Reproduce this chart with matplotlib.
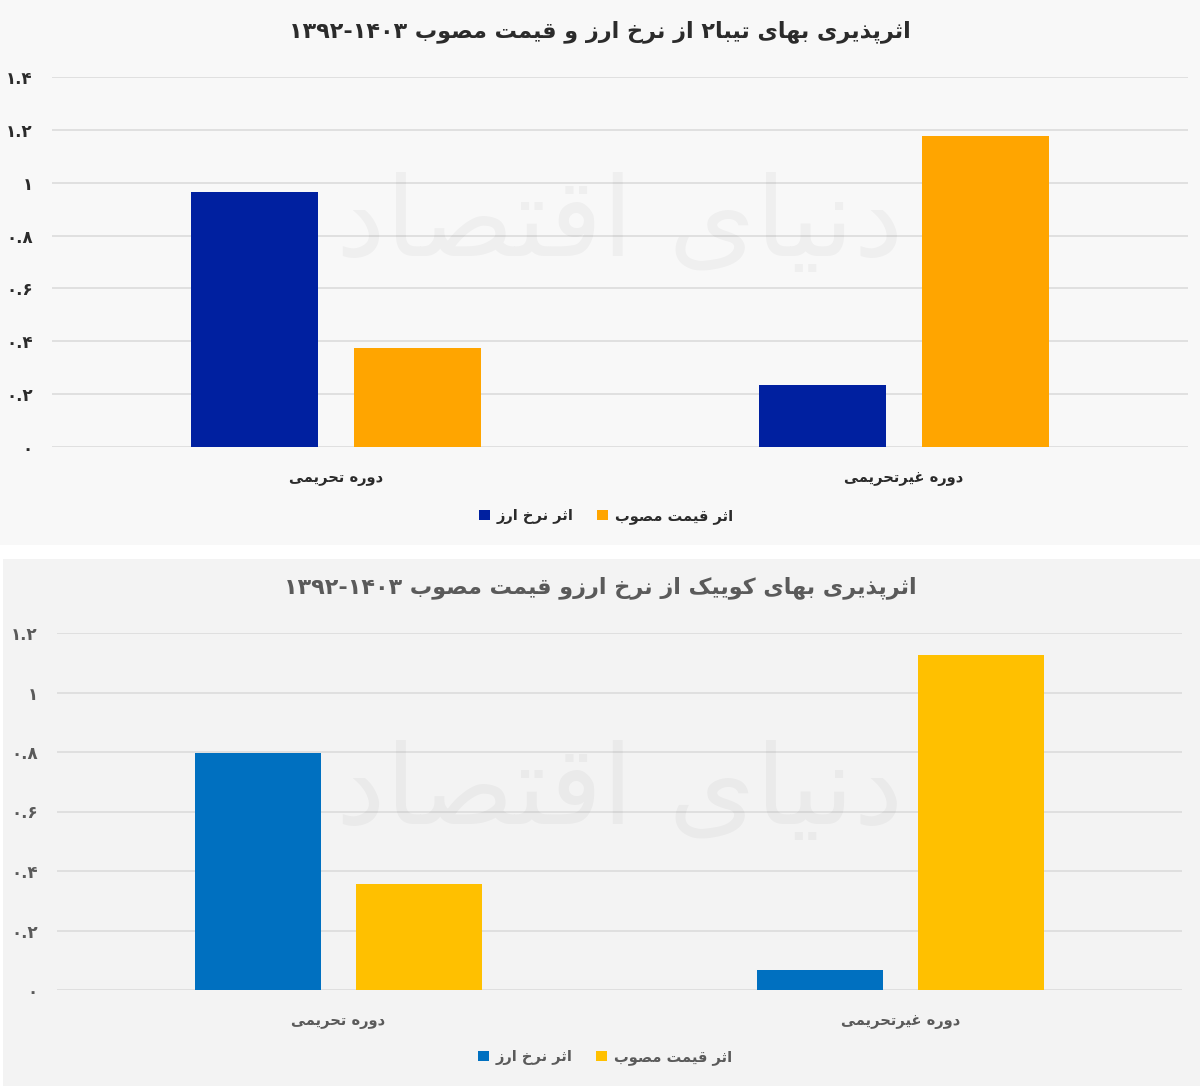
import matplotlib
matplotlib.use("Agg")
import matplotlib.pyplot as plt
from matplotlib.patches import Rectangle, Patch

# ---------------- data ----------------
categories = ["دوره تحریمی", "دوره غیرتحریمی"]
series_names = ["اثر نرخ ارز", "اثر قیمت مصوب"]

top_title = "اثرپذیری بهای تیبا۲ از نرخ ارز و قیمت مصوب ۱۳۹۲-۱۴۰۳"
top_fx = [0.965, 0.235]      # اثر نرخ ارز
top_price = [0.375, 1.177]   # اثر قیمت مصوب
top_ticks = [0, 0.2, 0.4, 0.6, 0.8, 1.0, 1.2, 1.4]
top_ticklabels = ["۰", "۰.۲", "۰.۴", "۰.۶", "۰.۸", "۱", "۱.۲", "۱.۴"]

bot_title = "اثرپذیری بهای کوییک از نرخ ارزو قیمت مصوب ۱۳۹۲-۱۴۰۳"
bot_fx = [0.797, 0.067]
bot_price = [0.356, 1.126]
bot_ticks = [0, 0.2, 0.4, 0.6, 0.8, 1.0, 1.2]
bot_ticklabels = ["۰", "۰.۲", "۰.۴", "۰.۶", "۰.۸", "۱", "۱.۲"]

watermark = "دنیای اقتصاد"

# ---------------- minimal Persian shaping ----------------
_DUAL = {
    'ب': (0xFE8F, 0xFE90, 0xFE91, 0xFE92), 'پ': (0xFB56, 0xFB57, 0xFB58, 0xFB59),
    'ت': (0xFE95, 0xFE96, 0xFE97, 0xFE98), 'ث': (0xFE99, 0xFE9A, 0xFE9B, 0xFE9C),
    'ج': (0xFE9D, 0xFE9E, 0xFE9F, 0xFEA0), 'چ': (0xFB7A, 0xFB7B, 0xFB7C, 0xFB7D),
    'ح': (0xFEA1, 0xFEA2, 0xFEA3, 0xFEA4), 'خ': (0xFEA5, 0xFEA6, 0xFEA7, 0xFEA8),
    'س': (0xFEB1, 0xFEB2, 0xFEB3, 0xFEB4), 'ش': (0xFEB5, 0xFEB6, 0xFEB7, 0xFEB8),
    'ص': (0xFEB9, 0xFEBA, 0xFEBB, 0xFEBC), 'ض': (0xFEBD, 0xFEBE, 0xFEBF, 0xFEC0),
    'ط': (0xFEC1, 0xFEC2, 0xFEC3, 0xFEC4), 'ظ': (0xFEC5, 0xFEC6, 0xFEC7, 0xFEC8),
    'ع': (0xFEC9, 0xFECA, 0xFECB, 0xFECC), 'غ': (0xFECD, 0xFECE, 0xFECF, 0xFED0),
    'ف': (0xFED1, 0xFED2, 0xFED3, 0xFED4), 'ق': (0xFED5, 0xFED6, 0xFED7, 0xFED8),
    'ک': (0xFB8E, 0xFB8F, 0xFB90, 0xFB91), 'گ': (0xFB92, 0xFB93, 0xFB94, 0xFB95),
    'ل': (0xFEDD, 0xFEDE, 0xFEDF, 0xFEE0), 'م': (0xFEE1, 0xFEE2, 0xFEE3, 0xFEE4),
    'ن': (0xFEE5, 0xFEE6, 0xFEE7, 0xFEE8), 'ه': (0xFEE9, 0xFEEA, 0xFEEB, 0xFEEC),
    'ی': (0xFBFC, 0xFBFD, 0xFBFE, 0xFBFF),
}
_RIGHT = {
    'ا': (0xFE8D, 0xFE8E), 'آ': (0xFE81, 0xFE82), 'د': (0xFEA9, 0xFEAA),
    'ذ': (0xFEAB, 0xFEAC), 'ر': (0xFEAD, 0xFEAE), 'ز': (0xFEAF, 0xFEB0),
    'ژ': (0xFB8A, 0xFB8B), 'و': (0xFEED, 0xFEEE),
}
_DIGITS = set("۰۱۲۳۴۵۶۷۸۹0123456789")


def fa(text):
    n = len(text)
    shaped = []
    for i, c in enumerate(text):
        if c not in _DUAL and c not in _RIGHT:
            shaped.append(c)
            continue
        prev = text[i - 1] if i > 0 else ''
        nxt = text[i + 1] if i + 1 < n else ''
        jp = prev in _DUAL
        jn = c in _DUAL and (nxt in _DUAL or nxt in _RIGHT)
        if c in _DUAL:
            iso, fin, ini, med = _DUAL[c]
            code = med if (jp and jn) else fin if jp else ini if jn else iso
        else:
            iso, fin = _RIGHT[c]
            code = fin if jp else iso
        shaped.append(chr(code))
    tokens = []
    i = 0
    while i < n:
        if text[i] in _DIGITS:
            j = i
            while j < n and (text[j] in _DIGITS or
                             (text[j] in '.-' and j + 1 < n and text[j + 1] in _DIGITS)):
                j += 1
            tokens.append(''.join(shaped[i:j]))
            i = j
        else:
            tokens.append(shaped[i])
            i += 1
    return ''.join(reversed(tokens))


# ---------------- figure ----------------
W, H = 1200, 1086
fig = plt.figure(figsize=(W / 100, H / 100), dpi=100)
fig.patch.set_facecolor("white")
FONT = "DejaVu Sans"


def fx(px):
    return px / W


def fy(py):
    return 1 - py / H


fig.add_artist(Rectangle((0, fy(545)), 1, 545 / H, transform=fig.transFigure,
                         facecolor="#f8f8f8", edgecolor="none", zorder=0))
fig.add_artist(Rectangle((fx(3), 0), 1 - fx(3), (H - 559) / H, transform=fig.transFigure,
                         facecolor="#f3f3f3", edgecolor="none", zorder=0))


def panel(rect, title, title_y, fxv, prv, ticks, ticklabels, ymax,
          c_fx, c_pr, txt_color, leg_y, leg_x, wm_y):
    ax = fig.add_axes(rect)
    ax.set_facecolor("none")
    x = [0, 1]
    w = 0.224
    off = 0.143
    ax.bar([xi - off for xi in x], fxv, width=w, color=c_fx, zorder=3)
    ax.bar([xi + off for xi in x], prv, width=w, color=c_pr, zorder=3)
    ax.set_xlim(-0.5, 1.5)
    ax.set_ylim(0, ymax)
    ax.set_yticks(ticks)
    ax.set_yticklabels(ticklabels, family=FONT, fontsize=12, fontweight="bold",
                       color=txt_color)
    ax.tick_params(axis="y", length=0, pad=14)
    ax.set_xticks(x)
    ax.set_xticklabels([fa(c) for c in categories], family=FONT, fontsize=10.5,
                       fontweight="bold", color=txt_color)
    ax.tick_params(axis="x", length=0, pad=17)
    for s in ax.spines.values():
        s.set_visible(False)
    ax.grid(axis="y", color="#dcdcdc", linewidth=1.2, zorder=1)
    ax.set_axisbelow(True)
    # faint watermark
    ax.text(0.5, wm_y, fa(watermark), transform=ax.transAxes, ha="center", va="center",
            family=FONT, fontsize=80, color="#000000", alpha=0.035, zorder=2)
    fig.text(0.5, fy(title_y), fa(title), ha="center", va="center", family=FONT,
             fontsize=16, fontweight="bold", color=txt_color)
    handles = [Patch(facecolor=c_fx), Patch(facecolor=c_pr)]
    labels = [fa(s) for s in series_names]
    fig.legend(handles, labels, loc="center", bbox_to_anchor=(fx(leg_x), fy(leg_y)),
               ncol=2, frameon=False, handlelength=0.75, handleheight=0.75,
               handletextpad=0.5, columnspacing=1.6,
               prop={"family": FONT, "size": 10.5, "weight": "bold"},
               labelcolor=txt_color)
    return ax


panel([fx(52), fy(447), (1188 - 52) / W, 370 / H], top_title, 32,
      top_fx, top_price, top_ticks, top_ticklabels, 1.4,
      "#0020a0", "#ffa500", "#2b2b2b", 516, 606, 0.6)

panel([fx(57), fy(990), (1182 - 57) / W, 357 / H], bot_title, 588,
      bot_fx, bot_price, bot_ticks, bot_ticklabels, 1.2,
      "#0070c0", "#ffc000", "#5a5a5a", 1057, 605, 0.55)

fig.savefig("out.png", dpi=100, facecolor=fig.get_facecolor())
